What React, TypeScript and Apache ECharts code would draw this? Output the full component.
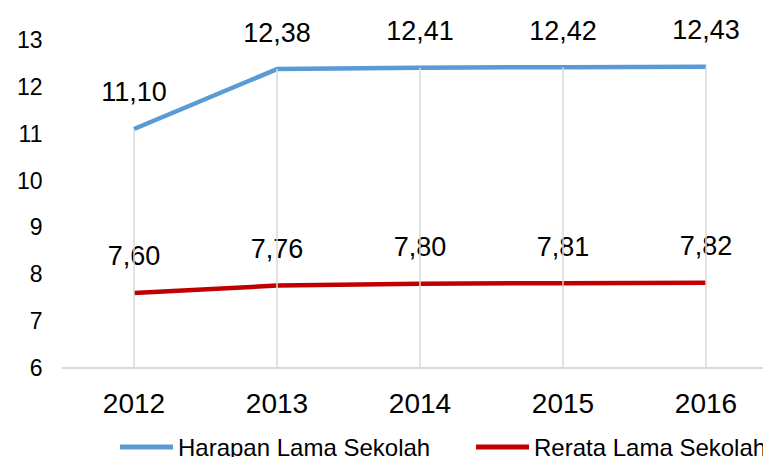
import React, { useEffect, useRef } from "react";
import * as echarts from "echarts";

const categories = ["2012", "2013", "2014", "2015", "2016"];
const harapan = [11.1, 12.38, 12.41, 12.42, 12.43];
const rerata = [7.6, 7.76, 7.8, 7.81, 7.82];
const seriesNames = ["Harapan Lama Sekolah", "Rerata Lama Sekolah"];
const yMin = 6;
const yMax = 13;

const FONT = "'Liberation Sans', Arial, sans-serif";

export default function App() {
  const ref = useRef<HTMLDivElement>(null);
  useEffect(() => {
    if (!ref.current) return;
    const chart = echarts.init(ref.current, null, { renderer: "svg" });
    const fmt = (p: any) => Number(p.value).toFixed(2).replace(".", ",");
    const dropLines = categories.map((c, i) => [
      { coord: [c, yMin] },
      { coord: [c, Math.max(harapan[i], rerata[i])] },
    ]);
    const legendBase = {
      top: 430,
      icon: "rect",
      itemWidth: 53,
      itemHeight: 5,
      textStyle: { fontFamily: FONT, fontSize: 24, color: "#000000" },
    };
    const labelStyle = {
      show: true,
      position: "top",
      distance: 23,
      formatter: fmt,
      fontFamily: FONT,
      fontSize: 27,
      color: "#000000",
    };
    chart.setOption({
      animation: false,
      backgroundColor: "#ffffff",
      textStyle: { fontFamily: FONT },
      grid: { left: 62.5, right: 0.5, top: 40, bottom: 89, containLabel: false },
      legend: [
        { ...legendBase, data: [seriesNames[0]], left: 115 },
        { ...legendBase, data: [seriesNames[1]], left: 471 },
      ],
      xAxis: {
        type: "category",
        data: categories,
        boundaryGap: true,
        axisLine: { show: true, lineStyle: { color: "#d9d9d9", width: 2 } },
        axisTick: { show: false },
        splitLine: { show: false },
        axisLabel: { fontFamily: FONT, fontSize: 28, color: "#000000", margin: 21 },
      },
      yAxis: {
        type: "value",
        min: yMin,
        max: yMax,
        interval: 1,
        axisLine: { show: false },
        axisTick: { show: false },
        splitLine: { show: false },
        axisLabel: { fontFamily: FONT, fontSize: 23, color: "#000000", margin: 20 },
      },
      series: [
        {
          type: "line",
          name: "__drop",
          data: [],
          z: 1,
          silent: true,
          markLine: {
            silent: true,
            symbol: ["none", "none"],
            label: { show: false },
            lineStyle: { color: "#d9d9d9", width: 1.5, type: "solid" },
            data: dropLines,
          },
        },
        {
          type: "line",
          name: seriesNames[0],
          data: harapan,
          z: 3,
          color: "#5b9bd5",
          symbol: "circle",
          symbolSize: 0.1,
          lineStyle: { color: "#5b9bd5", width: 4.5 },
          label: labelStyle,
        },
        {
          type: "line",
          name: seriesNames[1],
          data: rerata,
          z: 3,
          color: "#c00000",
          symbol: "circle",
          symbolSize: 0.1,
          lineStyle: { color: "#c00000", width: 4.5 },
          label: labelStyle,
        },
      ],
    });
    return () => chart.dispose();
  }, []);
  return (
    <div
      style={{
        position: "fixed",
        left: 0,
        top: 0,
        width: 763,
        height: 457,
        overflow: "hidden",
        background: "#fff",
      }}
    >
      <div ref={ref} style={{ width: 778, height: 457 }} />
    </div>
  );
}
